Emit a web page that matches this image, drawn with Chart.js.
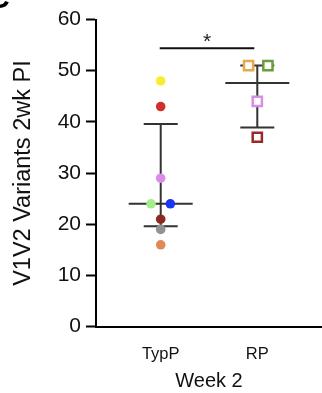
<!DOCTYPE html>
<html>
<head>
<meta charset="utf-8">
<script src="https://cdn.jsdelivr.net/npm/chart.js@4.4.1/dist/chart.umd.min.js"></script>
<style>
  html, body { margin: 0; padding: 0; background: #fff; }
  #wrap { width: 322px; height: 393px; }
</style>
</head>
<body>
<div id="wrap"><canvas id="chart" width="322" height="393"></canvas></div>
<script>
// groups on the x axis (placed at x = 1 and x = 2)
const groups = ['TypP', 'RP'];
const yTicks = [0, 10, 20, 30, 40, 50, 60];

// TypP animals (circles)
const typpValues = [48, 43, 29, 24, 24, 21, 19, 16];
const typpJitter = [0, 0, 0, -0.1, 0.1, 0, 0, 0];
const typpColors = ['#f6ee2e', '#d1302a', '#d98de8', '#a4ee8a', '#1c35f2', '#8a2a22', '#929292', '#e08a5c'];

// RP animals (open squares)
const rpValues = [51, 51, 44, 37];
const rpJitter = [-0.09, 0.11, 0, 0];
const rpColors = ['#e8a84c', '#6c9c3c', '#d88ce6', '#9a2a2a'];

// summary per group: median with interquartile range
const medians = [24, 47.6];
const lowers = [19.6, 38.9];
const uppers = [39.6, 51];

// significance bracket
const sigY = 54.4;
const sigLabel = '*';

const FONT = "'Liberation Sans', Arial, sans-serif";

function pts(values, jitter, groupIdx) {
    return values.map((v, i) => ({ x: groupIdx + 1 + jitter[i], y: v }));
}

const summaryPlugin = {
    id: 'summary',
    beforeDatasetsDraw(chart) {
        const ctx = chart.ctx;
        const xs = chart.scales.x, ys = chart.scales.y;
        ctx.save();
        ctx.strokeStyle = '#333';
        ctx.lineWidth = 2;
        groups.forEach((g, i) => {
            const cx = xs.getPixelForValue(i + 1);
            const yMed = ys.getPixelForValue(medians[i]);
            const yLo = ys.getPixelForValue(lowers[i]);
            const yHi = ys.getPixelForValue(uppers[i]);
            ctx.beginPath();
            ctx.moveTo(cx - 32, yMed); ctx.lineTo(cx + 32, yMed);
            ctx.moveTo(cx, yLo); ctx.lineTo(cx, yHi);
            ctx.moveTo(cx - 17, yLo); ctx.lineTo(cx + 17, yLo);
            ctx.moveTo(cx - 17, yHi); ctx.lineTo(cx + 17, yHi);
            ctx.stroke();
        });
        ctx.restore();
    },
    afterDraw(chart) {
        const ctx = chart.ctx;
        const xs = chart.scales.x, ys = chart.scales.y;
        ctx.save();
        const x1 = xs.getPixelForValue(1) - 1;
        const x2 = xs.getPixelForValue(2) - 3;
        const y = ys.getPixelForValue(sigY);
        ctx.strokeStyle = '#111';
        ctx.lineWidth = 2;
        ctx.beginPath();
        ctx.moveTo(x1, y); ctx.lineTo(x2, y);
        ctx.stroke();
        ctx.fillStyle = '#222';
        ctx.font = '21px ' + FONT;
        ctx.textAlign = 'center';
        ctx.textBaseline = 'alphabetic';
        ctx.fillText(sigLabel, (x1 + x2) / 2, y);
        // cut-off panel letter in the corner
        ctx.font = 'bold 30px ' + FONT;
        ctx.textAlign = 'left';
        ctx.fillStyle = '#000';
        ctx.fillText('C', -12, 8);
        ctx.restore();
    }
};

const ctx = document.getElementById('chart').getContext('2d');
new Chart(ctx, {
    type: 'scatter',
    data: {
        datasets: [{
            label: groups[0],
            data: pts(typpValues, typpJitter, 0),
            pointStyle: 'circle',
            pointRadius: 4.8,
            pointBorderWidth: 0,
            pointBackgroundColor: typpColors,
            pointBorderColor: typpColors
        }, {
            label: groups[1],
            data: pts(rpValues, rpJitter, 1),
            pointStyle: 'rect',
            pointRadius: 6.5,
            pointBorderWidth: 2.5,
            pointBackgroundColor: '#fff',
            pointBorderColor: rpColors
        }]
    },
    options: {
        responsive: false,
        animation: false,
        layout: { autoPadding: false, padding: { top: 19.5, right: 0, left: 0, bottom: 0 } },
        plugins: { legend: { display: false }, tooltip: { enabled: false } },
        scales: {
            x: {
                type: 'linear',
                min: 0.33,
                max: 2.67,
                afterBuildTicks: (scale) => { scale.ticks = groups.map((g, i) => ({ value: i + 1 })); },
                afterFit: (scale) => {
                    scale.height = 66.3;
                    scale.paddingLeft = 0;
                    scale.paddingRight = 0;
                },
                ticks: {
                    callback: (v) => groups[v - 1],
                    color: '#111',
                    font: { family: FONT, size: 16.5 },
                    padding: 10,
                    maxRotation: 0
                },
                grid: { display: false },
                border: { display: true, color: '#000', width: 2 },
                title: {
                    display: true,
                    text: 'Week 2',
                    color: '#111',
                    font: { family: FONT, size: 20 },
                    padding: { top: 0, bottom: 0 }
                }
            },
            y: {
                min: 0,
                max: 60,
                afterBuildTicks: (scale) => { scale.ticks = yTicks.map(v => ({ value: v })); },
                afterFit: (scale) => { scale.width = 96; },
                ticks: {
                    color: '#111',
                    font: { family: FONT, size: 21 },
                    padding: 5
                },
                grid: {
                    display: true,
                    drawOnChartArea: false,
                    drawTicks: true,
                    tickLength: 10,
                    tickColor: '#000',
                    tickWidth: 2
                },
                border: { display: true, color: '#000', width: 2 },
                title: {
                    display: true,
                    text: 'V1V2 Variants 2wk PI',
                    color: '#111',
                    font: { family: FONT, size: 23.5 },
                    padding: { top: 9, bottom: 0 }
                }
            }
        }
    },
    plugins: [summaryPlugin]
});
</script>
</body>
</html>
